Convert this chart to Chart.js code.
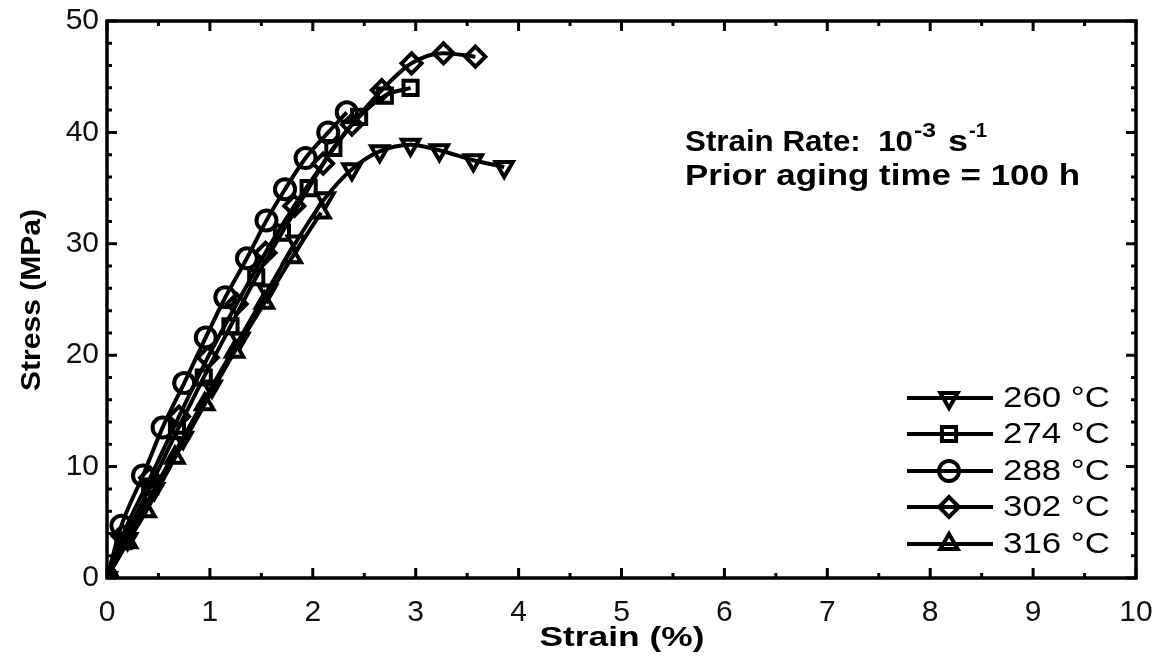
<!DOCTYPE html>
<html>
<head>
<meta charset="utf-8">
<script src="https://cdn.jsdelivr.net/npm/chart.js@4/dist/chart.umd.min.js"></script>
<style>
  html, body { margin: 0; padding: 0; background: #fff; }
  #wrap { width: 1162px; height: 658px; }
</style>
</head>
<body>
<div id="wrap"><canvas id="grafico"></canvas></div>
<script>
// ---- data ----
const seriesLabels = ["260 °C", "274 °C", "288 °C", "302 °C", "316 °C"];

const strain260 = [0, 0.2, 0.46, 0.74, 1.02, 1.29, 1.56, 1.84, 2.12, 2.38, 2.65, 2.95, 3.23, 3.56, 3.86];
const stress260 = [0, 3.5, 8.0, 12.6, 17.2, 21.5, 25.8, 30.2, 34.1, 36.7, 38.3, 38.9, 38.4, 37.5, 36.9];

const strain274 = [0, 0.16, 0.42, 0.68, 0.94, 1.2, 1.45, 1.7, 1.96, 2.2, 2.45, 2.7, 2.95];
const stress274 = [0, 3.3, 8.2, 13.2, 18.0, 22.6, 27.0, 31.0, 35.0, 38.6, 41.4, 43.3, 44.0];

const strain288 = [0, 0.14, 0.35, 0.54, 0.75, 0.96, 1.15, 1.36, 1.55, 1.73, 1.93, 2.15, 2.33];
const stress288 = [0, 4.7, 9.2, 13.5, 17.5, 21.6, 25.2, 28.7, 32.1, 34.9, 37.7, 40.0, 41.8];

const strain302 = [0, 0.15, 0.42, 0.7, 0.98, 1.26, 1.54, 1.82, 2.1, 2.38, 2.67, 2.96, 3.27, 3.58];
const stress302 = [0, 3.8, 9.0, 14.5, 19.8, 24.6, 29.2, 33.4, 37.2, 40.7, 43.8, 46.2, 47.1, 46.8];

const strain316 = [0, 0.2, 0.38, 0.66, 0.95, 1.24, 1.53, 1.8, 2.08];
const stress316 = [0, 3.2, 6.0, 10.8, 15.6, 20.3, 24.7, 28.8, 32.8];

const xTicks = [0, 1, 2, 3, 4, 5, 6, 7, 8, 9, 10];
const yTicks = [0, 10, 20, 30, 40, 50];

// ---- helpers ----
function pares(xs, ys) {
    return xs.map((x, i) => ({ x: x, y: ys[i] }));
}

const estilos = [
    { pointStyle: "triangle", rotation: 180 },
    { pointStyle: "rect", rotation: 0 },
    { pointStyle: "circle", rotation: 0 },
    { pointStyle: "rectRot", rotation: 0 },
    { pointStyle: "triangle", rotation: 0 }
];

const dadosSeries = [
    pares(strain260, stress260),
    pares(strain274, stress274),
    pares(strain288, stress288),
    pares(strain302, stress302),
    pares(strain316, stress316)
];

const datasets = dadosSeries.map((d, i) => ({
    label: seriesLabels[i],
    data: d,
    borderColor: "#000",
    borderWidth: 4,
    cubicInterpolationMode: "monotone",
    pointStyle: estilos[i].pointStyle,
    pointRotation: estilos[i].rotation,
    pointRadius: 10,
    pointBorderWidth: 4,
    pointBorderColor: "#000",
    pointBackgroundColor: "rgba(0,0,0,0)"
}));

const FONTE = "'Liberation Sans', Arial, sans-serif";

// text stretched horizontally to a target width
function textoLargo(ctx, txt, x, y, font, largura, align) {
    ctx.save();
    ctx.font = font;
    const w = ctx.measureText(txt).width;
    const sx = largura ? largura / w : 1;
    ctx.translate(x, y);
    ctx.scale(sx, 1);
    ctx.textAlign = align || "left";
    ctx.fillText(txt, 0, 0);
    ctx.restore();
    return w * sx;
}

// frame, inward ticks, legend, annotation, axis titles
const moldura = {
    id: "moldura",
    afterDraw(chart) {
        const ctx = chart.ctx;
        const a = chart.chartArea;
        const xs = chart.scales.x;
        const ys = chart.scales.y;
        ctx.save();
        ctx.strokeStyle = "#000";
        ctx.fillStyle = "#000";

        // ticks (major + minor), all four sides, pointing inward
        ctx.lineWidth = 3;
        ctx.beginPath();
        for (let v = 0; v <= 10.001; v += 0.5) {
            const px = xs.getPixelForValue(v);
            const len = Math.abs(v - Math.round(v)) < 0.01 ? 10 : 5;
            ctx.moveTo(px, a.bottom); ctx.lineTo(px, a.bottom - len);
            ctx.moveTo(px, a.top); ctx.lineTo(px, a.top + len);
        }
        for (let v = 0; v <= 50.001; v += 2) {
            const py = ys.getPixelForValue(v);
            const len = v % 10 === 0 ? 10 : 5;
            ctx.moveTo(a.left, py); ctx.lineTo(a.left + len, py);
            ctx.moveTo(a.right, py); ctx.lineTo(a.right - len, py);
        }
        ctx.stroke();

        // frame
        ctx.lineWidth = 3.5;
        ctx.strokeRect(a.left, a.top, a.right - a.left, a.bottom - a.top);

        // annotation
        ctx.textBaseline = "alphabetic";
        const fb = "bold 29px " + FONTE;
        const fs = "bold 20px " + FONTE;
        let x = 685;
        x += textoLargo(ctx, "Strain Rate:  10", x, 151, fb, 228);
        x += textoLargo(ctx, "-3", x + 1, 137, fs, 22) + 3;
        x += textoLargo(ctx, " s", x, 151, fb, 30);
        textoLargo(ctx, "-1", x + 1, 137, fs, 18);
        textoLargo(ctx, "Prior aging time = 100 h", 685, 185, fb, 395);

        // axis titles
        textoLargo(ctx, "Strain (%)", 622, 646, "bold 27px " + FONTE, 165, "center");
        ctx.save();
        ctx.translate(40, 300);
        ctx.rotate(-Math.PI / 2);
        textoLargo(ctx, "Stress (MPa)", 0, 0, "bold 27px " + FONTE, 182, "center");
        ctx.restore();

        // legend
        const linhas = [398, 434, 471, 507, 544];
        chart.data.datasets.forEach((ds, i) => {
            const y = linhas[i];
            ctx.lineWidth = 4;
            ctx.beginPath();
            ctx.moveTo(907, y); ctx.lineTo(993, y);
            ctx.stroke();
            ctx.fillStyle = "rgba(0,0,0,0)";
            Chart.helpers.drawPoint(ctx, {
                pointStyle: ds.pointStyle,
                rotation: ds.pointRotation,
                radius: 10,
                borderWidth: 4
            }, 949, y);
            ctx.fillStyle = "#000";
            ctx.textBaseline = "middle";
            textoLargo(ctx, ds.label, 1003, y + 1, "30px " + FONTE, 107);
            ctx.textBaseline = "alphabetic";
        });
        ctx.restore();
    }
};

const ctx = document.getElementById("grafico");

new Chart(ctx, {
    type: "line",
    data: { datasets: datasets },
    options: {
        responsive: true,
        maintainAspectRatio: false,
        animation: false,
        layout: { padding: { left: 0, right: 26, top: 21, bottom: 0 } },
        plugins: {
            legend: { display: false },
            tooltip: { enabled: false }
        },
        scales: {
            x: {
                type: "linear",
                min: 0,
                max: 10,
                afterFit(scale) {
                    scale.height = 80;
                    scale.paddingLeft = 0;
                    scale.paddingRight = 0;
                },
                afterBuildTicks(scale) { scale.ticks = xTicks.map(v => ({ value: v })); },
                grid: { display: false, drawTicks: false },
                border: { display: false },
                ticks: {
                    color: "#111",
                    padding: 17,
                    maxRotation: 0,
                    font: { family: FONTE, size: 30 }
                }
            },
            y: {
                type: "linear",
                min: 0,
                max: 50,
                afterFit(scale) {
                    scale.width = 107;
                    scale.paddingTop = 0;
                    scale.paddingBottom = 0;
                },
                afterBuildTicks(scale) { scale.ticks = yTicks.map(v => ({ value: v })); },
                grid: { display: false, drawTicks: false },
                border: { display: false },
                ticks: {
                    color: "#111",
                    padding: 8,
                    font: { family: FONTE, size: 30 }
                }
            }
        }
    },
    plugins: [moldura]
});
</script>
</body>
</html>
